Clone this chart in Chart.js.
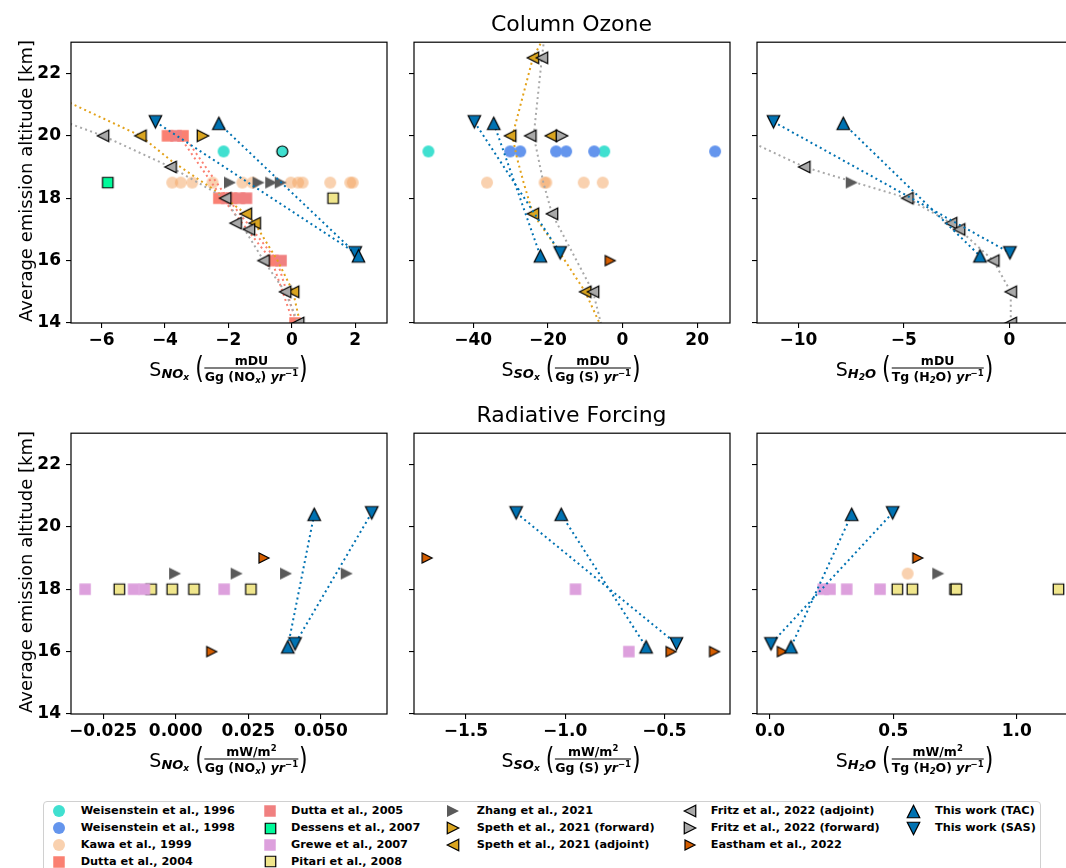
<!DOCTYPE html>
<html>
<head>
<meta charset="utf-8">
<script src="https://cdn.jsdelivr.net/npm/chart.js@4.4.1/dist/chart.umd.min.js"></script>
<style>
html,body{margin:0;padding:0;background:#fff;}
body{width:1066px;height:868px;overflow:hidden;position:relative;font-family:'DejaVu Sans',sans-serif;color:#000;}
canvas.pc{position:absolute;}
.ttl{position:absolute;font-size:22px;line-height:26px;transform:translateX(-50%);white-space:nowrap;}
.yl{position:absolute;font-size:18px;white-space:nowrap;transform:translate(-50%,-50%) rotate(-90deg);}
.xl{position:absolute;transform:translate(-50%,-50%);display:flex;align-items:center;white-space:nowrap;}
.xl .S{font-size:19px;}
.xl .sb{font-size:13px;font-weight:bold;font-style:italic;position:relative;top:5px;margin-right:5px;}
.xl .sb sub{font-size:9px;vertical-align:-2px;line-height:0;}
.xl .pa{font-size:22px;display:inline-block;transform:scaleY(1.35);margin:0 1px;}
.xl .fr{display:inline-flex;flex-direction:column;align-items:center;font-size:12.5px;font-weight:bold;line-height:13px;}
.xl .fr .n{border-bottom:1.2px solid #000;align-self:stretch;text-align:center;padding-bottom:1px;}
.xl .fr .d{padding-top:1px;}
.xl .fr sub{font-size:8.5px;vertical-align:-2px;line-height:0;font-style:italic;}
.xl .fr sup{font-size:8.5px;vertical-align:5px;line-height:0;}
.lg{position:absolute;left:43px;top:801px;width:996px;height:90px;border:1px solid #d0d0d0;border-radius:4px;background:#fff;}
.li{position:absolute;font-size:11.3px;font-weight:bold;white-space:nowrap;line-height:14px;}
.lic{position:absolute;}
</style>
</head>
<body>
<script>
// ---------------- axes / ticks ----------------
const yTicks = [14, 16, 18, 20, 22];
const yTickLabels = ['14', '16', '18', '20', '22'];
const yRange = [14, 23];

const xTicksNOxO3 = [-6, -4, -2, 0, 2];
const xTickLabelsNOxO3 = ['\u22126', '\u22124', '\u22122', '0', '2'];
const xTicksSOxO3 = [-40, -20, 0, 20];
const xTickLabelsSOxO3 = ['\u221240', '\u221220', '0', '20'];
const xTicksH2OO3 = [-10, -5, 0];
const xTickLabelsH2OO3 = ['\u221210', '\u22125', '0'];
const xTicksNOxRF = [-0.025, 0, 0.025, 0.05];
const xTickLabelsNOxRF = ['\u22120.025', '0.000', '0.025', '0.050'];
const xTicksSOxRF = [-1.5, -1.0, -0.5];
const xTickLabelsSOxRF = ['\u22121.5', '\u22121.0', '\u22120.5'];
const xTicksH2ORF = [0, 0.5, 1.0];
const xTickLabelsH2ORF = ['0.0', '0.5', '1.0'];

// ---------------- data: Column ozone, NOx ----------------
const weis96_o3_nox = [[-2.15, 19.5], [-0.3, 19.5]];
const kawa_o3_nox = [[-3.77, 18.5], [-3.5, 18.5], [-3.14, 18.5], [-2.5, 18.5], [-1.56, 18.5], [-1.24, 18.5], [-0.03, 18.5], [0.2, 18.5], [0.34, 18.5], [1.21, 18.5], [1.84, 18.5], [1.92, 18.5]];
const dutta04_o3_nox = [[-3.92, 20], [-3.43, 20], [-2.3, 18], [-1.9, 18], [-0.6, 16], [0.1, 14]];
const dutta05_o3_nox = [[-3.65, 20], [-2.05, 18], [-1.65, 18], [-1.43, 18], [-0.34, 16]];
const dutta04_line_o3_nox = [[-3.55, 20], [-2.19, 18], [-0.63, 16], [0.05, 14]];
const dutta05_line_o3_nox = [[-3.4, 20], [-2.03, 18], [-0.47, 16], [0.15, 14]];
const dessens_o3_nox = [[-5.8, 18.5]];
const pitari_o3_nox = [[1.3, 18.0]];
const zhang_o3_nox = [[-1.95, 18.5], [-1.05, 18.5], [-0.65, 18.5], [-0.35, 18.5]];
const spethF_o3_nox = [[-2.8, 20]];
const spethA_o3_nox = [[-4.77, 20], [-1.45, 17.5], [-1.17, 17.2], [0.04, 15]];
const spethA_line_o3_nox = [[-7.3, 21.2], [-4.77, 20], [-3.8, 19.2], [-2.5, 18.3], [-1.45, 17.5], [-1.17, 17.2], [-0.45, 16], [0.04, 15], [0.28, 13.9]];
const fritzA_o3_nox = [[-5.95, 20], [-3.82, 19], [-2.1, 18], [-1.77, 17.2], [-1.35, 17], [-0.89, 16], [-0.21, 15], [0.2, 14]];
const fritzA_line_o3_nox = [[-7.3, 20.5], [-5.95, 20], [-3.82, 19], [-2.1, 18], [-1.55, 17.1], [-0.89, 16], [-0.21, 15], [0.2, 14]];
const tac_o3_nox = [[-2.3, 20.4], [2.1, 16.15]];
const sas_o3_nox = [[-4.3, 20.45], [2.0, 16.25]];

// ---------------- data: Column ozone, SOx ----------------
const weis96_o3_sox = [[-52, 19.5], [-4.9, 19.5]];
const weis98_o3_sox = [[-30.1, 19.5], [-27.4, 19.5], [-17.8, 19.5], [-15.1, 19.5], [-7.6, 19.5], [24.8, 19.5]];
const kawa_o3_sox = [[-36.3, 18.5], [-20.9, 18.5], [-20.4, 18.5], [-10.4, 18.5], [-5.3, 18.5]];
const spethA_o3_sox = [[-24.0, 22.5], [-30.1, 20], [-19.2, 20], [-24.0, 17.5], [-10.0, 15]];
const spethA_line_o3_sox = [[-21.3, 23.1], [-24.0, 22.5], [-29.5, 20], [-28.3, 19.3], [-26.5, 18.5], [-24.0, 17.5], [-17.6, 16.4], [-10.0, 15], [-5.8, 13.9]];
const fritzA_o3_sox = [[-21.6, 22.5], [-24.7, 20], [-18.9, 17.5], [-7.9, 15]];
const fritzA_line_o3_sox = [[-21.0, 23.1], [-21.6, 22.5], [-23.8, 20], [-21.2, 18.5], [-18.9, 17.5], [-7.9, 15], [-5.6, 13.9]];
const fritzF_o3_sox = [[-16.2, 20]];
const eastham_o3_sox = [[-3.3, 16]];
const tac_o3_sox = [[-34.5, 20.4], [-22.0, 16.15]];
const sas_o3_sox = [[-39.7, 20.45], [-16.7, 16.25]];

// ---------------- data: Column ozone, H2O ----------------
const fritzA_o3_h2o = [[-9.72, 19], [-4.83, 18], [-2.76, 17.2], [-2.38, 17], [-0.76, 16], [0.07, 15], [0.07, 14]];
const fritzA_line_o3_h2o = [[-12.3, 19.82], [-9.72, 19], [-4.83, 18], [-2.76, 17.2], [-2.38, 17], [-0.76, 16], [0.07, 15], [0.07, 13.9]];
const zhang_o3_h2o = [[-7.47, 18.5]];
const tac_o3_h2o = [[-7.87, 20.4], [-1.39, 16.15]];
const sas_o3_h2o = [[-11.18, 20.45], [0.03, 16.25]];

// ---------------- data: Radiative forcing, NOx ----------------
const pitari_rf_nox = [[-0.0194, 18], [-0.0085, 18], [-0.0012, 18], [0.0063, 18], [0.0259, 18]];
const grewe_rf_nox = [[-0.0312, 18], [-0.0145, 18], [-0.0108, 18], [0.0167, 18]];
const zhang_rf_nox = [[-0.0002, 18.5], [0.021, 18.5], [0.038, 18.5], [0.0589, 18.5]];
const eastham_rf_nox = [[0.0304, 19], [0.0124, 16]];
const tac_rf_nox = [[0.0477, 20.4], [0.0386, 16.15]];
const sas_rf_nox = [[0.0675, 20.45], [0.0411, 16.25]];

// ---------------- data: Radiative forcing, SOx ----------------
const grewe_rf_sox = [[-0.948, 18], [-0.679, 16]];
const eastham_rf_sox = [[-1.696, 19], [-0.466, 16], [-0.247, 16]];
const tac_rf_sox = [[-1.02, 20.4], [-0.592, 16.15]];
const sas_rf_sox = [[-1.247, 20.45], [-0.439, 16.25]];

// ---------------- data: Radiative forcing, H2O ----------------
const kawa_rf_h2o = [[0.558, 18.5]];
const zhang_rf_h2o = [[0.682, 18.5]];
const grewe_rf_h2o = [[0.216, 18], [0.243, 18], [0.311, 18], [0.446, 18]];
const pitari_rf_h2o = [[0.516, 18], [0.577, 18], [0.75, 18], [0.755, 18], [1.169, 18]];
const eastham_rf_h2o = [[0.599, 19], [0.05, 16]];
const tac_rf_h2o = [[0.331, 20.4], [0.085, 16.15]];
const sas_rf_h2o = [[0.497, 20.45], [0.004, 16.25]];

// ---------------- legend ----------------
const legendKeys = ['weis96', 'weis98', 'kawa', 'dutta04', 'dutta05', 'dessens', 'grewe', 'pitari', 'zhang', 'spethF', 'spethA', 'fritzA', 'fritzF', 'eastham', 'tac', 'sas'];
const legendLabels = ['Weisenstein et al., 1996', 'Weisenstein et al., 1998', 'Kawa et al., 1999', 'Dutta et al., 2004', 'Dutta et al., 2005', 'Dessens et al., 2007', 'Grewe et al., 2007', 'Pitari et al., 2008', 'Zhang et al., 2021', 'Speth et al., 2021 (forward)', 'Speth et al., 2021 (adjoint)', 'Fritz et al., 2022 (adjoint)', 'Fritz et al., 2022 (forward)', 'Eastham et al., 2022', 'This work (TAC)', 'This work (SAS)'];
const legendColumns = [4, 4, 3, 3, 2];

// ---------------- styling ----------------
function makeMarker(shape, size, fill, edge, lw) {
  lw = lw || 1.2;
  const pad = 2;
  const dim = Math.round(size + 2 * pad);
  const c = document.createElement('canvas');
  c.width = dim; c.height = dim;
  const g = c.getContext('2d');
  const cx = dim / 2, cy = dim / 2, h = size / 2;
  g.beginPath();
  if (shape === 'circle') g.arc(cx, cy, h, 0, Math.PI * 2);
  else if (shape === 'square') g.rect(cx - h, cy - h, size, size);
  else if (shape === 'up') { g.moveTo(cx, cy - h); g.lineTo(cx + h, cy + h); g.lineTo(cx - h, cy + h); g.closePath(); }
  else if (shape === 'down') { g.moveTo(cx, cy + h); g.lineTo(cx + h, cy - h); g.lineTo(cx - h, cy - h); g.closePath(); }
  else if (shape === 'left') { g.moveTo(cx - h, cy); g.lineTo(cx + h, cy - h); g.lineTo(cx + h, cy + h); g.closePath(); }
  else if (shape === 'right') { g.moveTo(cx + h, cy); g.lineTo(cx - h, cy - h); g.lineTo(cx - h, cy + h); g.closePath(); }
  g.fillStyle = fill; g.fill();
  if (edge) { g.lineWidth = lw; g.strokeStyle = edge; g.lineJoin = 'miter'; g.stroke(); }
  return c;
}
const MK = {
  weis96: ['circle', 12, '#40E0D0', null],
  weis96e: ['circle', 11, '#40E0D0', '#000'],
  weis98: ['circle', 12, '#6495ED', null],
  kawa: ['circle', 12, 'rgba(244,164,96,0.5)', null],
  dutta04: ['square', 11.5, '#FA8072', null],
  dutta05: ['square', 11.5, '#F08080', null],
  dessens: ['square', 10.5, '#00FA9A', '#000'],
  grewe: ['square', 11.5, '#DDA0DD', null],
  pitari: ['square', 10.5, '#F0E68C', '#000'],
  zhang: ['right', 12, '#5A5A5A', null],
  spethF: ['right', 11.5, '#DAA520', '#000'],
  spethA: ['left', 11.5, '#DAA520', '#000'],
  fritzA: ['left', 11.5, '#A9A9A9', '#000'],
  fritzF: ['right', 11.5, '#A9A9A9', '#000'],
  eastham: ['right', 10, '#D55E00', '#000'],
  tac: ['up', 12.5, '#0072B2', '#000'],
  sas: ['down', 12.5, '#0072B2', '#000']
};
function mk(key) { const m = MK[key]; return makeMarker(m[0], m[1], m[2], m[3]); }

const LINE_DASH = [2, 3.3];
function pts(data, key) {
  return { data: data, showLine: false, pointStyle: mk(key), pointRadius: MK[key][1] / 2, clip: 0 };
}
function dline(data, color) {
  return { data: data, showLine: true, pointRadius: 0, borderColor: color, borderWidth: 2, borderDash: LINE_DASH, borderCapStyle: 'butt', clip: 0, fill: false };
}
function work(data, key) {
  return { data: data, showLine: true, pointStyle: mk(key), pointRadius: MK[key][1] / 2, borderColor: '#0072B2', borderWidth: 2, borderDash: LINE_DASH, borderCapStyle: 'butt', clip: 0, fill: false };
}
const C_GOLD = '#E3A21A', C_GRAY = '#A9A9A9', C_SALMON = '#FA8072';

const frame = {
  id: 'frame',
  afterDatasetsDraw(chart) {
    const a = chart.chartArea, g = chart.ctx;
    g.save(); g.strokeStyle = '#000'; g.lineWidth = 1.2;
    g.strokeRect(a.left, a.top, a.right - a.left, a.bottom - a.top);
    g.restore();
  }
};

const PW = 316, PH = 284, LEFTS = [71, 413.5, 757], TOPS = [39, 430];
const PADL = 60, PADT = 12, PADR = 12, XH = 45;

function panel(col, row, xMin, xMax, xt, xtl, showY, sets) {
  const cv = document.createElement('canvas');
  cv.className = 'pc';
  const W = PADL + PW + PADR, H = PADT + PH + XH;
  cv.width = W; cv.height = H;
  cv.style.width = W + 'px'; cv.style.height = H + 'px';
  cv.style.left = (LEFTS[col] - PADL) + 'px';
  cv.style.top = (TOPS[row] - PADT) + 'px';
  document.body.appendChild(cv);
  const n = sets.length;
  sets.forEach((s, i) => { s.order = n - i; });
  const tickFont = { family: 'DejaVu Sans', weight: 'bold', size: 17 };
  new Chart(cv, {
    type: 'scatter',
    data: { datasets: sets },
    options: {
      responsive: false, animation: false, devicePixelRatio: 1, events: [],
      layout: { padding: { top: PADT, right: PADR, left: 0, bottom: 0 } },
      plugins: { legend: { display: false }, tooltip: { enabled: false } },
      scales: {
        x: {
          type: 'linear', min: xMin, max: xMax,
          afterBuildTicks(s) { s.ticks = xt.map(v => ({ value: v })); },
          afterFit(s) { s.height = XH; },
          ticks: { callback: (v) => { const i = xt.findIndex(t => Math.abs(t - v) < 1e-9); return i >= 0 ? xtl[i] : ''; }, font: tickFont, color: '#000', padding: 2, maxRotation: 0, autoSkip: false },
          grid: { display: true, drawOnChartArea: false, drawTicks: true, tickLength: 5, color: '#000', lineWidth: 1.1 },
          border: { display: false }
        },
        y: {
          type: 'linear', min: yRange[0], max: yRange[1],
          afterBuildTicks(s) { s.ticks = yTicks.map(v => ({ value: v })); },
          afterFit(s) { s.width = PADL; },
          ticks: { callback: (v) => { if (!showY) return ''; const i = yTicks.indexOf(v); return i >= 0 ? yTickLabels[i] : ''; }, font: tickFont, color: '#000', padding: 5, autoSkip: false },
          grid: { display: true, drawOnChartArea: false, drawTicks: true, tickLength: 5, color: '#000', lineWidth: 1.1 },
          border: { display: false }
        }
      }
    },
    plugins: [frame]
  });
}

// Column ozone, NOx
const w96 = pts(weis96_o3_nox, 'weis96');
w96.pointStyle = [mk('weis96'), mk('weis96e')];
panel(0, 0, -6.96, 3.0, xTicksNOxO3, xTickLabelsNOxO3, true, [
  pts(kawa_o3_nox, 'kawa'), w96,
  pts(dutta04_o3_nox, 'dutta04'), pts(dutta05_o3_nox, 'dutta05'),
  pts(dessens_o3_nox, 'dessens'), pts(pitari_o3_nox, 'pitari'),
  dline(dutta04_line_o3_nox, C_SALMON), dline(dutta05_line_o3_nox, C_SALMON),
  dline(spethA_line_o3_nox, C_GOLD), dline(fritzA_line_o3_nox, C_GRAY),
  pts(zhang_o3_nox, 'zhang'), pts(spethF_o3_nox, 'spethF'), pts(spethA_o3_nox, 'spethA'), pts(fritzA_o3_nox, 'fritzA'),
  work(sas_o3_nox, 'sas'), work(tac_o3_nox, 'tac')
]);
// Column ozone, SOx
panel(1, 0, -55.86, 28.79, xTicksSOxO3, xTickLabelsSOxO3, false, [
  pts(kawa_o3_sox, 'kawa'), pts(weis96_o3_sox, 'weis96'), pts(weis98_o3_sox, 'weis98'),
  dline(spethA_line_o3_sox, C_GOLD), dline(fritzA_line_o3_sox, C_GRAY),
  pts(spethA_o3_sox, 'spethA'), pts(fritzA_o3_sox, 'fritzA'), pts(fritzF_o3_sox, 'fritzF'), pts(eastham_o3_sox, 'eastham'),
  work(sas_o3_sox, 'sas'), work(tac_o3_sox, 'tac')
]);
// Column ozone, H2O
panel(2, 0, -11.96, 3.02, xTicksH2OO3, xTickLabelsH2OO3, false, [
  dline(fritzA_line_o3_h2o, C_GRAY),
  pts(zhang_o3_h2o, 'zhang'), pts(fritzA_o3_h2o, 'fritzA'),
  work(sas_o3_h2o, 'sas'), work(tac_o3_h2o, 'tac')
]);
// RF, NOx
panel(0, 1, -0.03605, 0.07277, xTicksNOxRF, xTickLabelsNOxRF, true, [
  pts(pitari_rf_nox, 'pitari'), pts(grewe_rf_nox, 'grewe'),
  pts(zhang_rf_nox, 'zhang'), pts(eastham_rf_nox, 'eastham'),
  work(sas_rf_nox, 'sas'), work(tac_rf_nox, 'tac')
]);
// RF, SOx
panel(1, 1, -1.762, -0.169, xTicksSOxRF, xTickLabelsSOxRF, false, [
  pts(grewe_rf_sox, 'grewe'), pts(eastham_rf_sox, 'eastham'),
  work(sas_rf_sox, 'sas'), work(tac_rf_sox, 'tac')
]);
// RF, H2O
panel(2, 1, -0.0527, 1.228, xTicksH2ORF, xTickLabelsH2ORF, false, [
  pts(kawa_rf_h2o, 'kawa'), pts(grewe_rf_h2o, 'grewe'), pts(pitari_rf_h2o, 'pitari'),
  pts(zhang_rf_h2o, 'zhang'), pts(eastham_rf_h2o, 'eastham'),
  work(sas_rf_h2o, 'sas'), work(tac_rf_h2o, 'tac')
]);

// ---------------- text: titles, axis labels ----------------
function addDiv(cls, html, left, top) {
  const d = document.createElement('div');
  d.className = cls; d.innerHTML = html;
  d.style.left = left + 'px'; d.style.top = top + 'px';
  document.body.appendChild(d);
  return d;
}
const midX = LEFTS.map(l => l + PW / 2);
addDiv('ttl', 'Column Ozone', midX[1], 11);
addDiv('ttl', 'Radiative Forcing', midX[1], 402);
addDiv('yl', 'Average emission altitude [km]', 25, TOPS[0] + PH / 2);
addDiv('yl', 'Average emission altitude [km]', 25, TOPS[1] + PH / 2);

const subs = ['NO<sub>x</sub>', 'SO<sub>x</sub>', 'H<sub>2</sub>O'];
const dens = ['Gg (NO<sub>x</sub>) <i>yr</i><sup>\u22121</sup>', 'Gg (S) <i>yr</i><sup>\u22121</sup>', 'Tg (H<sub>2</sub>O) <i>yr</i><sup>\u22121</sup>'];
const nums = ['mDU', 'mW/m<sup>2</sup>'];
for (let r = 0; r < 2; r++) {
  for (let c = 0; c < 3; c++) {
    const html = '<span class="S">S</span><span class="sb">' + subs[c] + '</span><span class="pa">(</span>' +
      '<span class="fr"><span class="n">' + nums[r] + '</span><span class="d">' + dens[c] + '</span></span><span class="pa">)</span>';
    addDiv('xl', html, midX[c], TOPS[r] + PH + 45);
  }
}

// ---------------- legend ----------------
const lg = document.createElement('div'); lg.className = 'lg'; document.body.appendChild(lg);
const colIconX = [59, 270, 453, 690, 913];
const colTextX = [80.7, 291, 476.7, 710.7, 935];
const rowY = [811, 828.3, 845, 861.7];
let k = 0;
legendColumns.forEach((cnt, c) => {
  for (let r = 0; r < cnt; r++, k++) {
    const icon = mk(legendKeys[k]);
    icon.className = 'lic';
    icon.style.left = (colIconX[c] - icon.width / 2) + 'px';
    icon.style.top = (rowY[r] - icon.height / 2) + 'px';
    document.body.appendChild(icon);
    const t = document.createElement('div');
    t.className = 'li'; t.textContent = legendLabels[k];
    t.style.left = colTextX[c] + 'px'; t.style.top = (rowY[r] - 7) + 'px';
    document.body.appendChild(t);
  }
});
</script>
</body>
</html>
